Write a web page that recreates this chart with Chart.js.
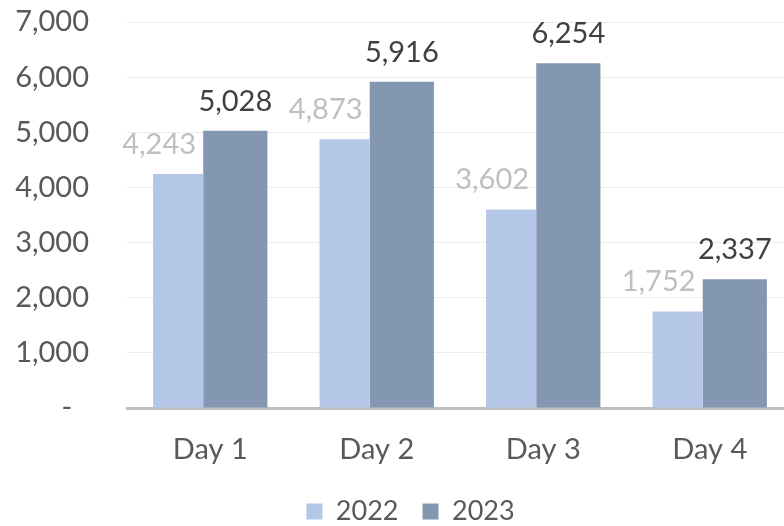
<!DOCTYPE html>
<html lang="en">
<head>
  <meta charset="UTF-8" />
  <title>Day 1-4: 2022 vs 2023</title>
  <script src="https://cdn.jsdelivr.net/npm/chart.js"></script>
  <style>
    html, body {
      margin: 0;
      padding: 0;
      background: #ffffff;
      overflow: hidden;
    }
    .wrap {
      position: relative;
      width: 800px;
      height: 535px;
    }
  </style>
</head>
<body>
  <div class="wrap">
    <canvas id="barChart"></canvas>
  </div>

  <script>
    const categories = ["Day 1", "Day 2", "Day 3", "Day 4"];
    const seriesNames = ["2022", "2023"];
    const values2022 = [4243, 4873, 3602, 1752];
    const values2023 = [5028, 5916, 6254, 2337];
    const yTicks = [0, 1000, 2000, 3000, 4000, 5000, 6000, 7000];

    const FONT = "Lato, 'Open Sans', sans-serif";
    const SIZE = 29;

    function fmt(v) {
      return v === 0 ? "-\u2007" : Number(v).toLocaleString("en-US");
    }

    // labels above bars, like Excel data labels
    const barLabels = {
      id: "barLabels",
      afterDatasetsDraw(chart) {
        const ctx = chart.ctx;
        ctx.save();
        ctx.font = SIZE + "px " + FONT;
        ctx.textBaseline = "alphabetic";
        chart.data.datasets.forEach((ds, i) => {
          const meta = chart.getDatasetMeta(i);
          meta.data.forEach((bar, j) => {
            ctx.fillStyle = ds.labelColor;
            ctx.textAlign = "center";
            const x = i === 0 ? bar.x - 19 : bar.x;
            ctx.fillText(fmt(ds.data[j]), x, bar.y - 20);
          });
        });
        ctx.restore();
      }
    };

    // legend sits a little right of centre in the original
    const legendShift = {
      id: "legendShift",
      afterLayout(chart) {
        chart.legend.left += 14;
        chart.legend.right += 14;
      }
    };

    new Chart(document.getElementById("barChart"), {
      type: "bar",
      data: {
        labels: categories,
        datasets: [
          {
            label: seriesNames[0],
            data: values2022,
            backgroundColor: "#b4c7e7",
            labelColor: "#bfbfbf",
            categoryPercentage: 0.7711,
            barPercentage: 0.78125
          },
          {
            label: seriesNames[1],
            data: values2023,
            backgroundColor: "#8497b0",
            labelColor: "#404040",
            categoryPercentage: 0.6024,
            barPercentage: 1.28
          }
        ]
      },
      plugins: [barLabels, legendShift],
      options: {
        responsive: true,
        maintainAspectRatio: false,
        animation: false,
        layout: {
          padding: { top: 22, right: 7, bottom: 0, left: 0 }
        },
        plugins: {
          tooltip: { enabled: false },
          legend: {
            position: "bottom",
            labels: {
              font: { family: FONT, size: 27 },
              color: "#595959",
              boxWidth: 16,
              boxHeight: 16,
              padding: 24
            }
          }
        },
        scales: {
          x: {
            grid: { display: false },
            border: { display: true, color: "#bfbfbf", width: 3 },
            afterFit: s => { s.height = 66; },
            ticks: {
              font: { family: FONT, size: SIZE },
              color: "#595959",
              padding: 16
            }
          },
          y: {
            min: 0,
            max: 7000,
            afterBuildTicks: s => { s.ticks = yTicks.map(v => ({ value: v })); },
            afterFit: s => {
              s.width = 127;
              s.paddingTop = 0;
              s.paddingBottom = 0;
            },
            grid: { color: "#ececec", drawTicks: false },
            border: { display: false },
            ticks: {
              font: { family: FONT, size: SIZE },
              color: "#595959",
              padding: 38,
              callback: v => fmt(v)
            }
          }
        }
      }
    });
  </script>
</body>
</html>
